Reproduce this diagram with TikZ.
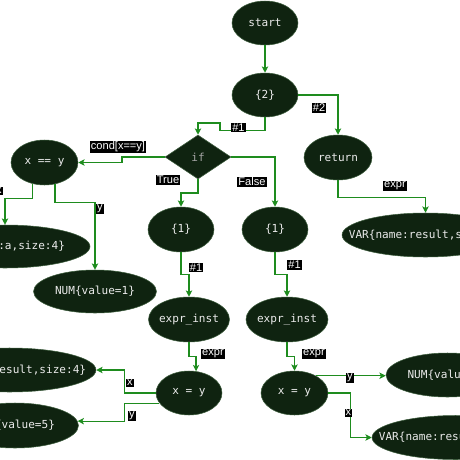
\documentclass[tikz,border=0pt]{standalone}
\usepackage{fontspec}
\newfontfamily\astfont{DejaVu Sans Mono}
\newfontfamily\lblfont{Liberation Sans}
\usetikzlibrary{arrows.meta, shapes.geometric}
\definecolor{astfill}{HTML}{0F2310}
\definecolor{astline}{HTML}{3C5C3C}
\definecolor{edgegreen}{HTML}{1E8C1E}

\begin{document}
\begin{tikzpicture}[
        x=0.02cm, y=-0.02cm,
        >={Stealth[length=3.6pt, width=3.6pt, inset=0.9pt]},
        ast_node/.style={ellipse, fill=astfill, draw=astline, line width=0.3pt, text=black!8, inner sep=0pt, font=\astfont\fontsize{6.3}{7}\selectfont, minimum width=1.32cm, minimum height=0.88cm},
        cond_node/.style={diamond, fill=astfill, draw=astline, line width=0.3pt, text=black!35, inner sep=0pt, font=\astfont\fontsize{6.3}{7}\selectfont, minimum width=1.32cm, minimum height=0.88cm},
        flow/.style={->, draw=edgegreen, line width=0.65pt},
        edge_label/.style={fill=black, text=white, inner sep=0.6pt, font=\lblfont\fontsize{6.3}{7}\selectfont}
    ]

    \useasboundingbox (0,0) rectangle (460,460);
    \clip (0,0) rectangle (460,460);

    % ========================================================
    % 1. ROOT AND BLOCK
    % ========================================================
    \node[ast_node] (start) at (265,23) {start};
    \node[ast_node] (two) at (265,95) {\{2\}};
    \node[ast_node, minimum width=1.36cm, minimum height=0.9cm] (ret) at (338,157.5) {return};
    \node[ast_node, minimum width=3.34cm] (varR) at (425.5,235) {\makebox[0pt]{VAR\{name:result,size:4\}}};

    % ========================================================
    % 2. CONDITION
    % ========================================================
    \node[cond_node] (ifn) at (198,157) {if};
    \node[ast_node, minimum width=1.34cm, minimum height=0.9cm] (xeq) at (44.5,162.5) {x == y};
    \node[ast_node, minimum width=3.4cm, minimum height=0.86cm] (varA) at (5,246.5) {\makebox[0pt]{VAR\{name:a,size:4\}}};
    \node[ast_node, minimum width=2.46cm, minimum height=0.86cm] (numA) at (95,291.5) {NUM\{value=1\}};

    % ========================================================
    % 3. TRUE BRANCH (LEFT)
    % ========================================================
    \node[ast_node, minimum height=0.9cm] (oneL) at (181,229.5) {\{1\}};
    \node[ast_node, minimum width=1.62cm, minimum height=0.9cm] (exprL) at (189,319.5) {\makebox[0pt]{expr\_inst}};
    \node[ast_node] (assL) at (189,393) {x = y};
    \node[ast_node, minimum width=3.46cm] (varL) at (9.5,370) {\makebox[0pt]{VAR\{name:result,size:4\}}};
    \node[ast_node, minimum width=2.54cm, minimum height=0.9cm] (numL) at (15,425.5) {NUM\{value=5\}};

    % ========================================================
    % 4. FALSE BRANCH (RIGHT)
    % ========================================================
    \node[ast_node, minimum height=0.9cm] (oneR) at (275,229.5) {\{1\}};
    \node[ast_node, minimum width=1.64cm, minimum height=0.9cm] (exprR) at (287,319.5) {\makebox[0pt]{expr\_inst}};
    \node[ast_node, minimum width=1.34cm] (assR) at (294.5,393) {x = y};
    \node[ast_node, minimum width=2.46cm] (numR) at (447.5,375) {NUM\{value=0\}};
    \node[ast_node, minimum width=3.34cm] (varRB) at (455.5,437.5) {\makebox[0pt]{VAR\{name:result,size:4\}}};

    % Verbindungen
    \draw[flow] (start.south) -- (two.north);
    \draw[flow] (two.south) |- (220,130.5) |- (198,123) -- (ifn.north);
    \draw[flow] (two.east) -| (ret.north);
    \draw[flow] (ret.south) -- ++(0,17) -| (varR.north);
    \draw[flow] (ifn.west) -- (122,157) |- (xeq.east);
    \draw[flow] (ifn.south) -- (198,193) -| (oneL.north);
    \draw[flow] (ifn.east) -| (oneR.north);
    \draw[flow] (xeq.241) -- ++(0,15) -| (varA.north);
    \draw[flow] (xeq.296) -- ++(0,18) -| (numA.north);
    \draw[flow] (oneL.south) -- ++(0,22) -| (exprL.north);
    \draw[flow] (exprL.south) -- ++(0,14) -| (assL.72);
    \draw[flow] (assL.west) -- ++(-31,0) |- (varL.east);
    \draw[flow] (assL.199) -- ++(-35,0) |- (numL.4);
    \draw[flow] (oneR.south) -- ++(0,22) -| (exprR.north);
    \draw[flow] (exprR.south) -- ++(0,14) -| (assR.north);
    \draw[flow] (assR.39) -- (assR.39 -| numR.west);
    \draw[flow] (assR.east) -- ++(22,0) |- (varRB.west);

    % Kantenbeschriftungen
    \node[edge_label] (l_two_if) at (238.5,127.5) {\#1};
    \node[edge_label] (l_two_ret) at (319,108) {\#2};
    \node[edge_label] (l_cond) at (118,147) {cond[x==y]};
    \node[edge_label] (l_true) at (168,180) {True};
    \node[edge_label] (l_false) at (252,182) {False};
    \node[edge_label] (l_ret) at (395,186) {expr};
    \node[edge_label] (l_xa) at (-1,191) {x};
    \node[edge_label] (l_ya) at (100,209) {y};
    \node[edge_label] (l_oneL) at (196,267.5) {\#1};
    \node[edge_label] (l_oneR) at (294.5,265) {\#1};
    \node[edge_label] (l_exprL) at (213,354) {expr};
    \node[edge_label] (l_exprR) at (314,354) {expr};
    \node[edge_label] (l_xL) at (130,383) {x};
    \node[edge_label] (l_yL) at (132,416) {y};
    \node[edge_label] (l_yR) at (350,378) {y};
    \node[edge_label] (l_xR) at (348.5,413) {x};

\end{tikzpicture}
\end{document}
